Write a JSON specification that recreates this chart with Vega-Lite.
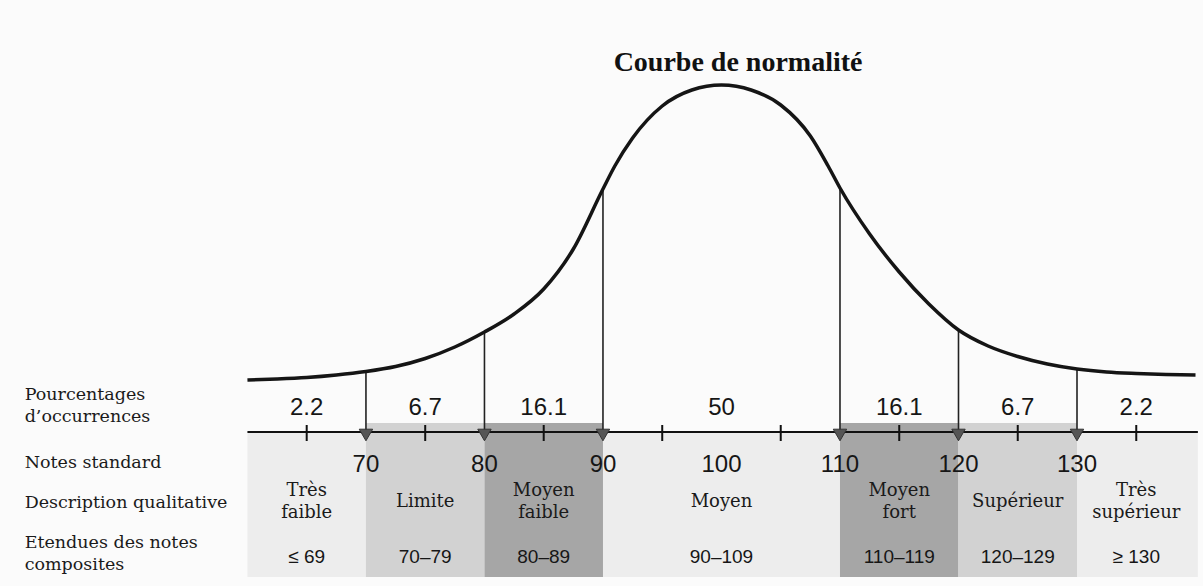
{
  "$schema": "https://vega.github.io/schema/vega-lite/v6.json",
  "width": 1203,
  "height": 586,
  "autosize": {"type": "fit", "contains": "padding"},
  "padding": 0,
  "background": "#fbfbfb",
  "config": {"view": {"stroke": null}},
  "datasets": {
    "curve": [
      {"score": 60, "h": 52}, {"score": 62.5, "h": 53}, {"score": 65, "h": 54.5}, {"score": 67.5, "h": 57},
      {"score": 70, "h": 60.5}, {"score": 72.5, "h": 65.5}, {"score": 75, "h": 73.5}, {"score": 77.5, "h": 85},
      {"score": 80, "h": 100}, {"score": 82.5, "h": 118}, {"score": 85, "h": 143}, {"score": 87.5, "h": 183},
      {"score": 90, "h": 243}, {"score": 91, "h": 266}, {"score": 92.5, "h": 294}, {"score": 95, "h": 326},
      {"score": 97.5, "h": 342}, {"score": 100, "h": 347}, {"score": 102.5, "h": 342}, {"score": 105, "h": 327},
      {"score": 107.5, "h": 296}, {"score": 109, "h": 266}, {"score": 110, "h": 244}, {"score": 112.5, "h": 198},
      {"score": 115, "h": 160}, {"score": 117.5, "h": 128}, {"score": 120, "h": 102}, {"score": 122.5, "h": 86},
      {"score": 125, "h": 75.5}, {"score": 127.5, "h": 68}, {"score": 130, "h": 63}, {"score": 132.5, "h": 60},
      {"score": 135, "h": 58.5}, {"score": 137.5, "h": 57.5}, {"score": 140, "h": 57}
    ],
    "bands": [
      {"lo": 60, "hi": 70, "mid": 65, "shade": "pale", "pct": "2.2", "desc": "Très\nfaible", "range": "≤ 69"},
      {"lo": 70, "hi": 80, "mid": 75, "shade": "light", "pct": "6.7", "desc": "Limite", "range": "70–79"},
      {"lo": 80, "hi": 90, "mid": 85, "shade": "dark", "pct": "16.1", "desc": "Moyen\nfaible", "range": "80–89"},
      {"lo": 90, "hi": 110, "mid": 100, "shade": "pale", "pct": "50", "desc": "Moyen", "range": "90–109"},
      {"lo": 110, "hi": 120, "mid": 115, "shade": "dark", "pct": "16.1", "desc": "Moyen\nfort", "range": "110–119"},
      {"lo": 120, "hi": 130, "mid": 125, "shade": "light", "pct": "6.7", "desc": "Supérieur", "range": "120–129"},
      {"lo": 130, "hi": 140.2, "mid": 135, "shade": "pale", "pct": "2.2", "desc": "Très\nsupérieur", "range": "≥ 130"}
    ],
    "cuts": [
      {"score": 70, "top": 60.5}, {"score": 80, "top": 100}, {"score": 90, "top": 243},
      {"score": 110, "top": 244}, {"score": 120, "top": 102}, {"score": 130, "top": 63}
    ],
    "notes": [{"score": 70}, {"score": 80}, {"score": 90}, {"score": 100}, {"score": 110}, {"score": 120}, {"score": 130}],
    "ticks": [{"score": 65}, {"score": 75}, {"score": 85}, {"score": 95}, {"score": 105}, {"score": 115}, {"score": 125}, {"score": 135}],
    "axisline": [{"from": 60, "to": 140.2}],
    "labels": [
      {"label": "Pourcentages\nd’occurrences", "row": 37},
      {"label": "Notes standard", "row": -31},
      {"label": "Description qualitative", "row": -71},
      {"label": "Etendues des notes\ncomposites", "row": -111}
    ],
    "title": [{"text": "Courbe de normalité", "at": 101.4}]
  },
  "layer": [
    {
      "data": {"name": "bands"},
      "transform": [{"filter": "datum.shade === 'pale'"}],
      "mark": {"type": "rect"},
      "encoding": {
        "x": {"field": "lo", "type": "quantitative", "scale": {"domain": [39.12, 140.21], "nice": false, "zero": false}, "axis": null},
        "x2": {"field": "hi"},
        "y": {"datum": 0, "type": "quantitative", "scale": {"domain": [-154, 432], "nice": false, "zero": false}, "axis": null},
        "y2": {"datum": -145},
        "color": {"field": "shade", "type": "nominal", "scale": {"domain": ["pale", "light", "dark"], "range": ["#ededed", "#d2d2d2", "#a6a6a6"]}, "legend": null}
      }
    },
    {
      "data": {"name": "bands"},
      "transform": [{"filter": "datum.shade !== 'pale'"}],
      "mark": {"type": "rect"},
      "encoding": {
        "x": {"field": "lo", "type": "quantitative"},
        "x2": {"field": "hi"},
        "y": {"datum": 9, "type": "quantitative"},
        "y2": {"datum": -145},
        "color": {"field": "shade", "type": "nominal", "legend": null}
      }
    },
    {
      "data": {"name": "axisline"},
      "mark": {"type": "rule", "color": "#111", "strokeWidth": 2},
      "encoding": {
        "x": {"field": "from", "type": "quantitative"},
        "x2": {"field": "to"},
        "y": {"datum": 0, "type": "quantitative"}
      }
    },
    {
      "data": {"name": "ticks"},
      "mark": {"type": "rule", "color": "#111", "strokeWidth": 2},
      "encoding": {
        "x": {"field": "score", "type": "quantitative"},
        "y": {"datum": 7, "type": "quantitative"},
        "y2": {"datum": -9}
      }
    },
    {
      "data": {"name": "cuts"},
      "mark": {"type": "rule", "color": "#222", "strokeWidth": 1.6},
      "encoding": {
        "x": {"field": "score", "type": "quantitative"},
        "y": {"field": "top", "type": "quantitative"},
        "y2": {"datum": 0}
      }
    },
    {
      "data": {"name": "cuts"},
      "mark": {"type": "point", "shape": "triangle-down", "filled": true, "color": "#555", "opacity": 1, "size": 180, "stroke": "#333", "strokeWidth": 1},
      "encoding": {
        "x": {"field": "score", "type": "quantitative"},
        "y": {"datum": -3, "type": "quantitative"}
      }
    },
    {
      "data": {"name": "curve"},
      "mark": {"type": "line", "color": "#151515", "strokeWidth": 3.5, "interpolate": "monotone"},
      "encoding": {
        "x": {"field": "score", "type": "quantitative"},
        "y": {"field": "h", "type": "quantitative"}
      }
    },
    {
      "data": {"name": "bands"},
      "mark": {"type": "text", "font": "Liberation Sans", "fontSize": 24, "color": "#161616", "baseline": "middle"},
      "encoding": {
        "x": {"field": "mid", "type": "quantitative"},
        "y": {"datum": 24, "type": "quantitative"},
        "text": {"field": "pct"}
      }
    },
    {
      "data": {"name": "notes"},
      "mark": {"type": "text", "font": "Liberation Sans", "fontSize": 24, "color": "#161616", "baseline": "middle"},
      "encoding": {
        "x": {"field": "score", "type": "quantitative"},
        "y": {"datum": -33, "type": "quantitative"},
        "text": {"field": "score", "type": "quantitative"}
      }
    },
    {
      "data": {"name": "bands"},
      "transform": [{"filter": "!test(/\\n/, datum.desc)"}],
      "mark": {"type": "text", "font": "DejaVu Serif", "fontSize": 18, "color": "#1a1a1a", "baseline": "middle"},
      "encoding": {
        "x": {"field": "mid", "type": "quantitative"},
        "y": {"datum": -70, "type": "quantitative"},
        "text": {"field": "desc"}
      }
    },
    {
      "data": {"name": "bands"},
      "transform": [{"filter": "test(/\\n/, datum.desc)"}],
      "mark": {"type": "text", "font": "DejaVu Serif", "fontSize": 18, "color": "#1a1a1a", "baseline": "middle", "lineBreak": "\n", "lineHeight": 22},
      "encoding": {
        "x": {"field": "mid", "type": "quantitative"},
        "y": {"datum": -59, "type": "quantitative"},
        "text": {"field": "desc"}
      }
    },
    {
      "data": {"name": "bands"},
      "mark": {"type": "text", "font": "Liberation Sans", "fontSize": 19, "color": "#161616", "baseline": "middle"},
      "encoding": {
        "x": {"field": "mid", "type": "quantitative"},
        "y": {"datum": -125, "type": "quantitative"},
        "text": {"field": "range"}
      }
    },
    {
      "data": {"name": "labels"},
      "mark": {"type": "text", "font": "DejaVu Serif", "fontSize": 17.5, "color": "#1a1a1a", "align": "left", "baseline": "middle", "lineBreak": "\n", "lineHeight": 22},
      "encoding": {
        "x": {"datum": 41.2, "type": "quantitative"},
        "y": {"field": "row", "type": "quantitative"},
        "text": {"field": "label"}
      }
    },
    {
      "data": {"name": "title"},
      "mark": {"type": "text", "font": "Liberation Serif", "fontSize": 28, "fontWeight": "bold", "color": "#111", "baseline": "middle"},
      "encoding": {
        "x": {"field": "at", "type": "quantitative"},
        "y": {"datum": 369, "type": "quantitative"},
        "text": {"field": "text"}
      }
    }
  ]
}
